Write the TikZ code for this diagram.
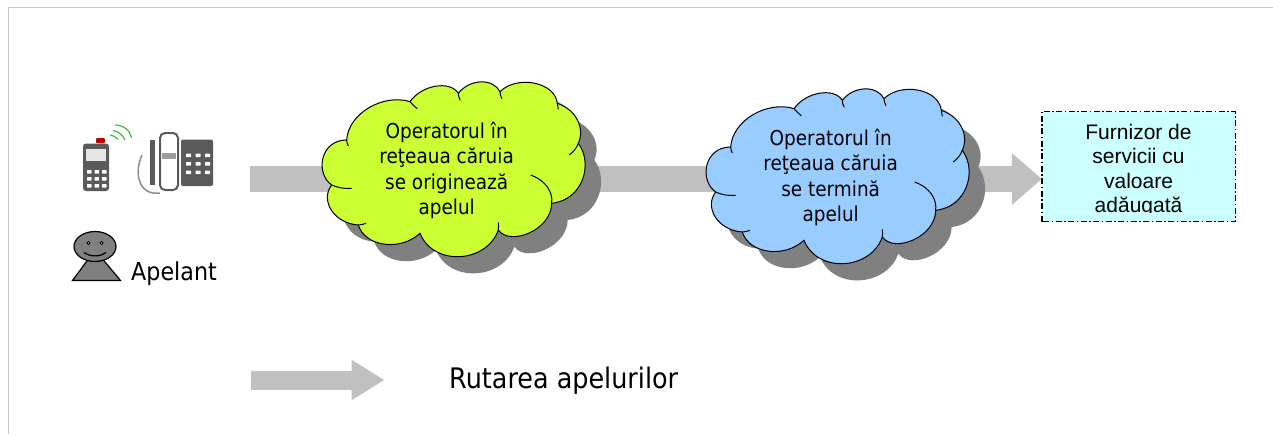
\documentclass[tikz,border=0pt]{standalone}
\usepackage{fontspec}
\setmainfont{Liberation Sans}
\newfontfamily\labelfont[FakeStretch=0.9]{DejaVu Sans}
\usetikzlibrary{arrows.meta}

\definecolor{framegray}{HTML}{C8C8C8}
\definecolor{arrowgray}{HTML}{C0C0C0}
\definecolor{shadowgray}{HTML}{808080}
\definecolor{cloudgreen}{HTML}{CCFF33}
\definecolor{cloudblue}{HTML}{99CCFF}
\definecolor{boxcyan}{HTML}{CCFFFF}
\definecolor{icongray}{HTML}{5A5A5A}

\tikzset{
	flowArrow/.style={draw=arrowgray, line width=26pt, -{Triangle[length=30pt, width=50pt]}},
	cloudText/.style={align=center, font=\labelfont\fontsize{20.5}{25.5}\selectfont},
	keyDot/.style={fill=white, rounded corners=0.5pt},
}

\newcommand{\cloudOutline}{
	(110,240) .. controls (115,160) and (220,100) .. (300,125)
	.. controls (335,75) and (420,60) .. (445,100)
	.. controls (480,55) and (550,55) .. (570,95)
	.. controls (620,45) and (735,65) .. (742,130)
	.. controls (800,150) and (825,205) .. (805,250)
	.. controls (850,310) and (820,420) .. (725,430)
	.. controls (725,510) and (600,560) .. (565,510)
	.. controls (530,610) and (370,620) .. (330,520)
	.. controls (270,575) and (165,560) .. (145,495)
	.. controls (70,490) and (30,420) .. (65,375)
	.. controls (15,340) and (30,240) .. (110,240) -- cycle
}
% cloud with its shadow: colour, place, name, text
\newcommand{\cloudNode}[5][cloudgreen]{
	\begin{scope}[shift={(#2,#3)}, x=0.3333pt, y=-0.3333pt]
		\fill[shadowgray, shift={(48,50)}] \cloudOutline;
		\draw[line width=1pt, fill=#1] \cloudOutline;
		\draw[line width=1pt]
			(110,240) .. controls (110,246) and (112,252) .. (115,258)
			(300,125) .. controls (306,132) and (313,139) .. (322,146)
			(445,100) .. controls (445,107) and (447,114) .. (451,121)
			(570,95) .. controls (570,102) and (572,109) .. (576,116)
			(742,130) .. controls (743,136) and (744,142) .. (745,148)
			(805,250) .. controls (800,265) and (790,275) .. (778,285)
			(725,430) .. controls (730,395) and (705,360) .. (662,345)
			(565,510) .. controls (566,502) and (566,495) .. (565,487)
			(145,495) .. controls (153,495) and (160,493) .. (168,490)
			(65,375) .. controls (82,383) and (103,387) .. (125,385);
		\node[cloudText](#4) at (410,331){#5};
	\end{scope}
}
\newcommand{\keyPad}[5]{
	\foreach \row in {0,1,2}{
		\foreach \col in {0,1,2}{
			\fill[keyDot] ({#1+\col*#3},{#2+\row*#4}) rectangle ++(#5,3.5);
		}
	}
}

\begin{document}
\begin{tikzpicture}[x=1pt, y=-1pt]
	\useasboundingbox (0,0) rectangle (1273,434);
	\fill[white] (0,0) rectangle (1273,434);
	\coordinate (frameLeft) at (8.5,434);
	\coordinate (frameRight) at (1273,7.5);
	\draw[framegray, line width=1.5pt] (frameLeft) |- (frameRight);

	% boxes first so that the arrow can find them
	\node[draw=none, fill=boxcyan, minimum width=193pt, minimum height=110pt, inner sep=0pt](furnizor) at (1138.5,166.5){};
	\draw[line width=1.4pt, dash pattern=on 6pt off 2.5pt on 1.5pt off 2.5pt] (furnizor.south west) rectangle (furnizor.north east);

	\coordinate (apelant) at (250,179);
	\draw[flowArrow] (apelant) -- (furnizor.west |- apelant);

	\cloudNode{310}{60}{origine}{Operatorul în\\reţeaua căruia\\se originează\\apelul};
	\cloudNode[cloudblue]{694}{67}{destinatie}{Operatorul în\\reţeaua căruia\\se termină\\apelul};

	\begin{scope}
		\clip (1042,112) rectangle (1236,212);
		\node[align=center, font=\fontsize{21}{24.4}\selectfont, anchor=north, inner sep=0pt](furnizorText) at (1138.5,124){Furnizor de\\servicii cu\\valoare\\adăugată};
	\end{scope}

	% cell phone
	\fill[red!75!black, rounded corners=1pt] (96,138) rectangle (105,143);
	\fill[icongray, rounded corners=3pt] (83,143.5) rectangle (109,191);
	\fill[white!90!black] (86,148.5) rectangle (106,161);
	\keyPad{87}{170}{7.5}{7}{4.5};
	\draw[green!45!gray, line width=1.2pt]
		(115,125) .. controls (123,125) and (130,130) .. (131.5,138)
		(113,130.5) .. controls (118,131) and (123,135) .. (125,140)
		(110,135) .. controls (113,135) and (116,137) .. (118,139.5);

	% desk phone
	\fill[icongray, rounded corners=2pt] (181,139.5) rectangle (213,186);
	\keyPad{186}{153.5}{9.5}{8.5}{5};
	\draw[icongray!70, line width=1.5pt] (142,155) .. controls (134,172) and (138,196) .. (160,193);
	\fill[icongray] (149.5,140) rectangle (155,185);
	\draw[icongray, line width=2pt, fill=white, rounded corners=5pt] (160,133) rectangle (178,190);
	\fill[icongray!60] (162,153) rectangle (176,159);

	% person
	\draw[line width=1.2pt, fill=shadowgray] (72.5,280.5) -- (95,250) -- (120.5,280.5) -- cycle;
	\draw[line width=1.2pt, fill=shadowgray] (95,246.5) ellipse (21 and 15);
	\draw[line width=1pt, fill=white] (88.5,243) circle (1.5) (101.5,243) circle (1.5);
	\draw[line width=1.2pt] (84,252.5) .. controls (90,257) and (100,257) .. (106,252.5);
	\node[anchor=base west, font=\labelfont\fontsize{24.7}{26}\selectfont, inner sep=0pt](apelantText) at (131,280){Apelant};

	% legend
	\coordinate (legendStart) at (250.5,380);
	\coordinate (legendEnd) at (384.5,380);
	\draw[flowArrow, line width=19pt, -{Triangle[length=33pt, width=38pt]}] (legendStart) -- (legendEnd);
	\node[anchor=base west, font=\labelfont\fontsize{28.3}{30}\selectfont, inner sep=0pt](legendText) at (449,388){Rutarea apelurilor};
\end{tikzpicture}
\end{document}
